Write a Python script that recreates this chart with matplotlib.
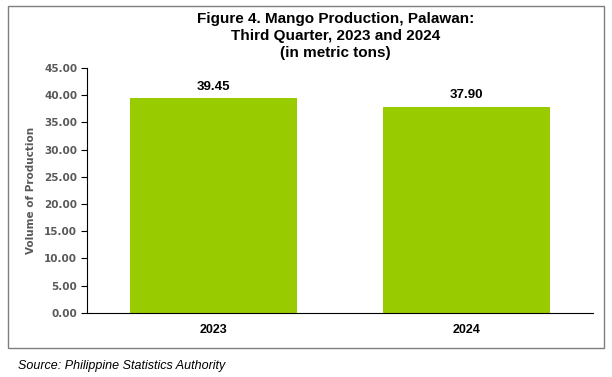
import matplotlib.pyplot as plt
from matplotlib.patches import Rectangle

# data
years = ['2023', '2024']
production = [39.45, 37.90]
y_ticks = [0, 5, 10, 15, 20, 25, 30, 35, 40, 45]

fig = plt.figure(figsize=(6.12, 3.77), dpi=100)
ax = fig.add_axes([0.142, 0.170, 0.827, 0.650])

bars = ax.bar(range(len(years)), production, width=0.66, color='#99CC00')
ax.set_xlim(-0.5, len(years) - 0.5)
ax.set_ylim(0, 45)

# value labels above bars
for x, v in enumerate(production):
    ax.annotate(f'{v:.2f}', xy=(x, v), xytext=(0, 4), textcoords='offset points',
                ha='center', va='bottom', fontsize=9.5, fontweight='bold',
                family='Liberation Sans', color='black')

ax.set_yticks(y_ticks)
ax.set_yticklabels([f'{t:.2f}' for t in y_ticks], fontsize=7.5, fontweight='bold',
                   family='DejaVu Sans', color='#595959')
ax.set_xticks(range(len(years)))
ax.set_xticklabels(years, fontsize=9, fontweight='bold', family='Liberation Sans')
ax.tick_params(axis='x', length=0, pad=8)
ax.tick_params(axis='y', length=4, width=0.8, pad=3)

ax.spines['right'].set_visible(False)
ax.spines['top'].set_visible(False)
ax.spines['left'].set_linewidth(0.8)
ax.spines['bottom'].set_linewidth(0.8)

ax.set_ylabel('Volume of Production', fontsize=7.5, fontweight='bold',
              family='DejaVu Sans', color='#595959', labelpad=6)

fig.text(0.548, 0.968, 'Figure 4. Mango Production, Palawan:\nThird Quarter, 2023 and 2024\n(in metric tons)',
         ha='center', va='top', fontsize=11, fontweight='bold',
         family='Liberation Sans', linespacing=1.25)

# chart border
fig.patches.append(Rectangle((8 / 612, 1 - 348 / 377), 596 / 612, 342 / 377,
                             transform=fig.transFigure, fill=False,
                             edgecolor='#7f7f7f', linewidth=1))

fig.text(18 / 612, 1 - 366 / 377, 'Source: Philippine Statistics Authority',
         ha='left', va='center', fontsize=9, style='italic', family='Liberation Sans')

plt.savefig('out.png', dpi=100)
